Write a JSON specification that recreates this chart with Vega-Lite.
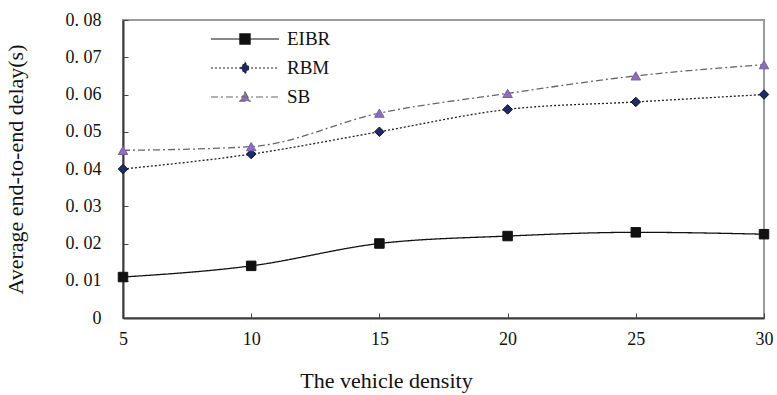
{
  "$schema": "https://vega.github.io/schema/vega-lite/v6.json",
  "width": 641,
  "height": 298,
  "autosize": "none",
  "padding": {"left": 123, "top": 20, "right": 13, "bottom": 77},
  "background": "white",
  "config": {
    "view": {"stroke": "#9a9a9a", "strokeWidth": 2},
    "font": "Liberation Serif, serif",
    "axis": {"labelFont": "Liberation Serif, serif", "titleFont": "Liberation Serif, serif"},
    "legend": {"labelFont": "Liberation Serif, serif"}
  },
  "data": {
    "values": [
      {"density": 5, "series": "EIBR", "delay": 0.011},
      {"density": 10, "series": "EIBR", "delay": 0.014},
      {"density": 15, "series": "EIBR", "delay": 0.020},
      {"density": 20, "series": "EIBR", "delay": 0.022},
      {"density": 25, "series": "EIBR", "delay": 0.023},
      {"density": 30, "series": "EIBR", "delay": 0.0225},
      {"density": 5, "series": "RBM", "delay": 0.040},
      {"density": 10, "series": "RBM", "delay": 0.044},
      {"density": 15, "series": "RBM", "delay": 0.050},
      {"density": 20, "series": "RBM", "delay": 0.056},
      {"density": 25, "series": "RBM", "delay": 0.058},
      {"density": 30, "series": "RBM", "delay": 0.060},
      {"density": 5, "series": "SB", "delay": 0.045},
      {"density": 10, "series": "SB", "delay": 0.046},
      {"density": 15, "series": "SB", "delay": 0.055},
      {"density": 20, "series": "SB", "delay": 0.0603},
      {"density": 25, "series": "SB", "delay": 0.065},
      {"density": 30, "series": "SB", "delay": 0.068}
    ]
  },
  "encoding": {
    "x": {
      "field": "density", "type": "quantitative",
      "scale": {"domain": [5, 30], "nice": false, "zero": false},
      "axis": {
        "values": [5, 10, 15, 20, 25, 30],
        "title": "The vehicle density",
        "titleFontSize": 22, "titleFontWeight": "normal", "titleColor": "#111",
        "titleX": 263, "titleY": 69, "titleBaseline": "alphabetic",
        "labelFontSize": 18, "labelColor": "#111",
        "labelPadding": 17, "labelFlush": false,
        "tickSize": -5, "tickColor": "#444", "tickWidth": 1,
        "domainColor": "#3a3a3a", "domainWidth": 2,
        "grid": false
      }
    },
    "y": {
      "field": "delay", "type": "quantitative",
      "scale": {"domain": [0, 0.08], "nice": false},
      "axis": {
        "values": [0, 0.01, 0.02, 0.03, 0.04, 0.05, 0.06, 0.07, 0.08],
        "labelExpr": "datum.value == 0 ? '0' : replace(format(datum.value, '.2f'), '.', '. ')",
        "title": "Average end-to-end delay(s)",
        "titleFontSize": 22, "titleFontWeight": "normal", "titleColor": "#111",
        "titlePadding": 38,
        "labelFontSize": 18, "labelColor": "#111",
        "labelPadding": 27, "labelFlush": false,
        "tickSize": -5, "tickColor": "#444", "tickWidth": 1,
        "domainColor": "#3a3a3a", "domainWidth": 2,
        "grid": false
      }
    }
  },
  "layer": [
    {
      "mark": {"type": "line", "interpolate": "monotone", "strokeWidth": 1.3},
      "encoding": {
        "detail": {"field": "series"},
        "strokeDash": {
          "field": "series", "type": "nominal",
          "scale": {"domain": ["EIBR", "RBM", "SB"], "range": [[1, 0], [2, 2], [7, 3, 2, 3]]},
          "legend": null
        },
        "stroke": {
          "field": "series", "type": "nominal",
          "scale": {"domain": ["EIBR", "RBM", "SB"], "range": ["#111111", "#222222", "#666666"]},
          "legend": null
        }
      }
    },
    {
      "mark": {"type": "point", "filled": true, "size": 90, "opacity": 1, "strokeWidth": 1},
      "encoding": {
        "shape": {
          "field": "series", "type": "nominal",
          "scale": {"domain": ["EIBR", "RBM", "SB"], "range": ["square", "diamond", "triangle-up"]},
          "legend": null
        },
        "fill": {
          "field": "series", "type": "nominal",
          "scale": {"domain": ["EIBR", "RBM", "SB"], "range": ["#111111", "#1c2a6e", "#8c6fb8"]},
          "legend": null
        },
        "stroke": {
          "field": "series", "type": "nominal",
          "scale": {"domain": ["EIBR", "RBM", "SB"], "range": ["#111111", "#111111", "#7a5da8"]},
          "legend": null
        }
      }
    },
    {
      "transform": [{"filter": "false"}],
      "mark": {"type": "point", "filled": true, "size": 4624, "opacity": 1, "strokeWidth": 1.2},
      "encoding": {
        "shape": {
          "field": "series", "type": "nominal",
          "scale": {"domain": ["EIBR", "RBM", "SB"], "range": [
            "M-1,0L1,0M-0.15,-0.15L0.15,-0.15L0.15,0.15L-0.15,0.15Z",
            "M-1,0L1,0M0,-0.16L0.13,0L0,0.16L-0.13,0Z",
            "M-1,0L1,0M0,-0.15L0.15,0.12L-0.15,0.12Z"
          ]},
          "legend": {
            "orient": "none", "legendX": 87, "legendY": 9, "title": null,
            "symbolSize": 4624, "symbolStrokeWidth": 1.2,
            "clipHeight": 20, "rowPadding": 9, "padding": 0,
            "labelFontSize": 19, "labelColor": "#111", "labelOffset": 7
          }
        },
        "fill": {
          "field": "series", "type": "nominal",
          "scale": {"domain": ["EIBR", "RBM", "SB"], "range": ["#111111", "#1c2a6e", "#8c6fb8"]}
        },
        "stroke": {
          "field": "series", "type": "nominal",
          "scale": {"domain": ["EIBR", "RBM", "SB"], "range": ["#111111", "#222222", "#666666"]}
        },
        "strokeDash": {
          "field": "series", "type": "nominal",
          "scale": {"domain": ["EIBR", "RBM", "SB"], "range": [[1, 0], [2, 2], [7, 3, 2, 3]]}
        }
      }
    }
  ],
  "resolve": {"scale": {"shape": "independent", "fill": "independent", "stroke": "independent", "strokeDash": "independent"}, "legend": {"shape": "independent", "fill": "independent", "stroke": "independent", "strokeDash": "independent"}}
}
